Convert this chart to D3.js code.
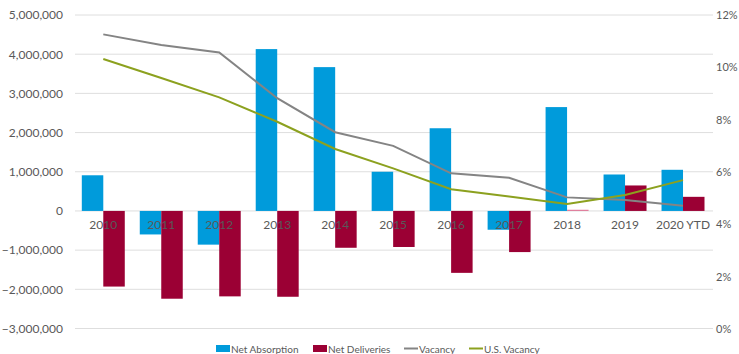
<!DOCTYPE html>
<html><head><meta charset="utf-8">
<script src="https://cdn.jsdelivr.net/npm/d3@7"></script>
<style>body{margin:0;background:#fff}svg{display:block}text{font-family:Lato,"Open Sans",sans-serif}</style>
</head><body><svg id="c" width="739" height="354"></svg>
<script>
const categories = ["2010","2011","2012","2013","2014","2015","2016","2017","2018","2019","2020 YTD"];
const netAbsorption = [910000,-600000,-860000,4130000,3670000,1000000,2110000,-480000,2650000,930000,1050000];
const netDeliveries = [-1930000,-2240000,-2180000,-2190000,-940000,-920000,-1580000,-1050000,30000,650000,360000];
const vacancy = [11.26,10.85,10.57,8.82,7.52,7.00,5.95,5.78,5.03,4.93,4.71];
const usVacancy = [10.32,9.59,8.85,7.92,6.88,6.14,5.34,5.06,4.78,5.12,5.69];
const leftTicks = [-3000000,-2000000,-1000000,0,1000000,2000000,3000000,4000000,5000000];
const rightTicks = [0,2,4,6,8,10,12];

const svg = d3.select("#c");
const blue="#009bdb", red="#9b0034", gray="#848484", green="#8ca11f";
const y = d3.scaleLinear().domain([-3000000,5000000]).range([328.5,15]);
const y2 = d3.scaleLinear().domain([0,12]).range([329,15]);
const x = d3.scaleBand().domain(categories).range([74.3,712]).padding(0);
const x1 = d3.scaleBand().domain(["a","d"]).range([0,x.bandwidth()]).paddingInner(0).paddingOuter(0.349);

// gridlines
svg.append("g").selectAll("line").data(leftTicks).join("line")
  .attr("x1",75).attr("x2",713).attr("y1",d=>y(d)).attr("y2",d=>y(d))
  .attr("stroke","#dedede").attr("stroke-width",1);

// left axis
const la = svg.append("g").attr("transform","translate(63,0)")
  .call(d3.axisLeft(y).tickValues(leftTicks).tickSize(0).tickPadding(0).tickFormat(d3.format(",")));
la.select(".domain").remove();
la.selectAll("text").attr("fill","#595959").style("font-size","12px");

// right axis
const ra = svg.append("g").attr("transform","translate(716,0)")
  .call(d3.axisRight(y2).tickValues(rightTicks).tickSize(0).tickPadding(0).tickFormat(d=>d+"%"));
ra.select(".domain").remove();
ra.selectAll("text").attr("fill","#595959").style("font-size","11px");

// bars
const g = svg.append("g");
g.selectAll("rect.a").data(categories).join("rect").attr("class","a")
  .attr("x",(d)=>x(d)+x1("a")).attr("width",x1.bandwidth())
  .attr("y",(d,i)=>y(Math.max(0,netAbsorption[i]))).attr("height",(d,i)=>Math.abs(y(netAbsorption[i])-y(0)))
  .attr("fill",blue);
g.selectAll("rect.d").data(categories).join("rect").attr("class","d")
  .attr("x",(d)=>x(d)+x1("d")).attr("width",x1.bandwidth())
  .attr("y",(d,i)=>y(Math.max(0,netDeliveries[i]))).attr("height",(d,i)=>Math.max(1,Math.abs(y(netDeliveries[i])-y(0))))
  .attr("fill",(d,i)=>netDeliveries[i]>0&&netDeliveries[i]<100000?"#e07a9a":red);

// x labels
svg.append("g").selectAll("text").data(categories).join("text")
  .attr("x",d=>x(d)+x.bandwidth()/2).attr("y",229).attr("text-anchor","middle")
  .attr("fill","#595959").style("font-size","12px").text(d=>d);

// lines
const cx = d=>x(d)+x.bandwidth()/2;
const line = arr => d3.line().x((d,i)=>cx(categories[i])).y(d=>y2(d))(arr);
svg.append("path").attr("d",line(vacancy)).attr("fill","none").attr("stroke",gray).attr("stroke-width",2);
svg.append("path").attr("d",line(usVacancy)).attr("fill","none").attr("stroke",green).attr("stroke-width",2);

// legend
const lg = svg.append("g").style("font-size","10px");
const items = [
  {t:"Net Absorption", c:blue, type:"rect", x:216},
  {t:"Net Deliveries", c:red, type:"rect", x:313},
  {t:"Vacancy", c:gray, type:"line", x:404},
  {t:"U.S. Vacancy", c:green, type:"line", x:469}
];
items.forEach(it=>{
  if(it.type==="rect") lg.append("rect").attr("x",it.x).attr("y",345).attr("width",14).attr("height",7).attr("fill",it.c);
  else lg.append("line").attr("x1",it.x).attr("x2",it.x+14).attr("y1",348.5).attr("y2",348.5).attr("stroke",it.c).attr("stroke-width",2);
  lg.append("text").attr("x",it.x+15).attr("y",352.5).attr("fill","#595959").text(it.t);
});
</script></body></html>
